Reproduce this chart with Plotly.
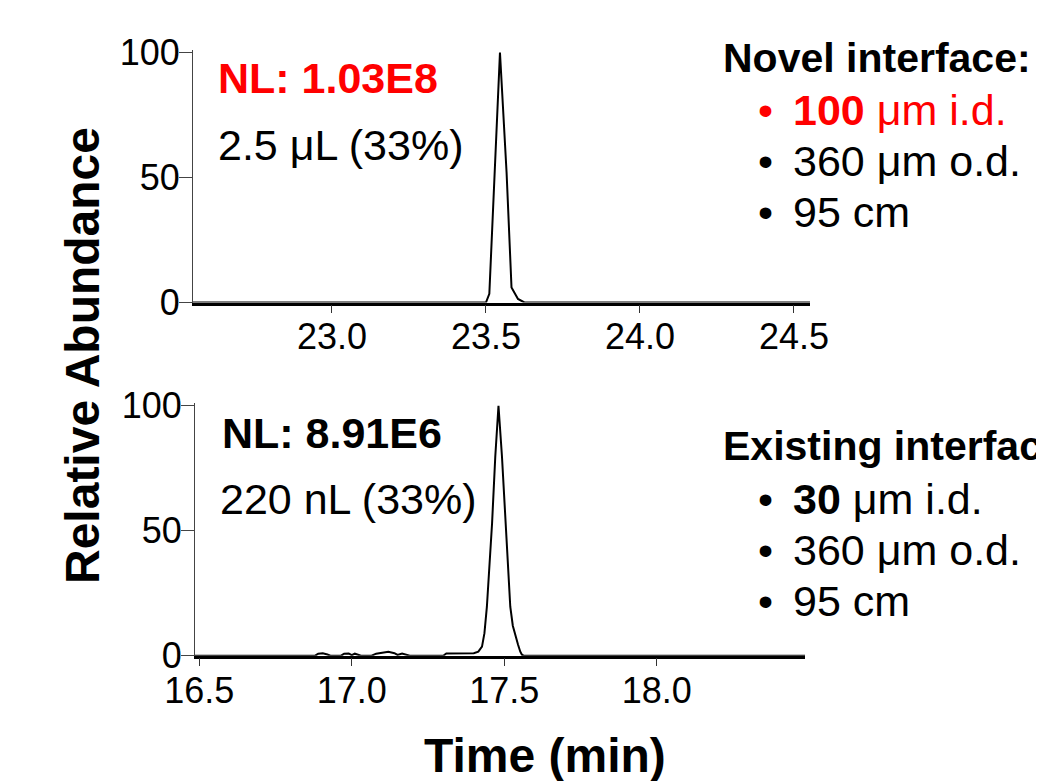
import plotly.graph_objects as go

# ---------------- data ----------------
top_time = [22.549, 23.500, 23.511, 23.528, 23.5455, 23.567, 23.583, 23.604, 23.625, 24.552]
top_abund = [0, 0, 3.5, 52, 100, 52, 6, 1.4, 0, 0]

bottom_time = [16.486, 16.88, 16.89, 16.905, 16.92, 16.93, 16.965, 16.975, 16.99, 17.00,
               17.01, 17.02, 17.03, 17.065, 17.08, 17.10, 17.12, 17.14, 17.15, 17.165,
               17.18, 17.19, 17.30, 17.31, 17.40, 17.415, 17.427, 17.435, 17.443, 17.452,
               17.460, 17.4705, 17.481, 17.4925, 17.500, 17.5066, 17.513, 17.5197, 17.528, 17.536,
               17.545, 17.5525, 17.558, 17.563, 18.486]
bottom_abund = [0, 0, 0.8, 1.0, 0.5, 0, 0, 0.8, 0.9, 0.2,
                0.8, 0.5, 0, 0, 0.8, 1.2, 1.6, 1.0, 0.3, 0.9,
                0.5, 0, 0, 0.9, 1.0, 1.6, 3.6, 9, 19.6, 36,
                53, 79.6, 100, 79.6, 62, 46, 32, 19.6, 12, 8,
                4.5, 1.6, 0.4, 0, 0]

top_xticks = [23.0, 23.5, 24.0, 24.5]
bottom_xticks = [16.5, 17.0, 17.5, 18.0]
y_ticks = [0, 50, 100]

top_range = [22.549, 24.552]
bottom_range = [16.486, 18.486]

W, H = 1044, 781
OFF = 8  # page body margin offset
FONT = "Liberation Sans, Arial, sans-serif"


def px(x):
    return (x - OFF) / W


def py(y):
    return 1 - (y - OFF) / H


fig = go.Figure()
fig.add_trace(go.Scatter(x=top_time, y=top_abund, mode="lines",
                         line=dict(color="black", width=2), xaxis="x", yaxis="y",
                         showlegend=False, hoverinfo="skip"))
fig.add_trace(go.Scatter(x=bottom_time, y=bottom_abund, mode="lines",
                         line=dict(color="black", width=2),
                         xaxis="x2", yaxis="y2", showlegend=False, hoverinfo="skip"))

xcommon = dict(showgrid=False, zeroline=False, showline=True, linecolor="black", linewidth=2.5,
               ticks="outside", ticklen=8, tickwidth=1, tickcolor="#333",
               tickfont=dict(family=FONT, size=36, color="black"), tickformat=".1f",
               automargin=False, ticklabelstandoff=-7)
ycommon = dict(showgrid=False, zeroline=False, showline=True, linecolor="#444", linewidth=1,
               ticks="outside", ticklen=13, tickwidth=1, tickcolor="#444",
               tickfont=dict(family=FONT, size=36, color="black"), range=[0, 101],
               tickvals=y_ticks, automargin=False, ticklabelstandoff=-8)

fig.update_layout(
    width=W, height=H,
    margin=dict(l=0, r=0, t=0, b=0),
    paper_bgcolor="white", plot_bgcolor="white",
    xaxis=dict(domain=[px(193), px(810)], range=top_range, tickvals=top_xticks, anchor="y", **xcommon),
    yaxis=dict(domain=[py(302.5), py(50.0)], anchor="x", **ycommon),
    xaxis2=dict(domain=[px(195), px(805)], range=bottom_range, tickvals=bottom_xticks, anchor="y2", **xcommon),
    yaxis2=dict(domain=[py(655.7), py(403.2)], anchor="x2", **ycommon),
)

ann = []


def add(text, x, y, size, color="black", xanchor="left", angle=0):
    ann.append(dict(text=text, x=px(x), y=py(y), xref="paper", yref="paper",
                    xanchor=xanchor, yanchor="middle", showarrow=False, textangle=angle,
                    font=dict(family=FONT, size=size, color=color)))


# panel labels
add("<b>NL: 1.03E8</b>", 216, 78, 43, "red")
add("2.5 μL (33%)", 216, 145, 43)
add("<b>NL: 8.91E6</b>", 220, 433, 43)
add("220 nL (33%)", 218, 499, 43)

# right-side descriptions
add("<b>Novel interface:</b>", 721, 58, 41)
add("•", 756, 110, 43, "red")
add("<b>100</b> μm i.d.", 791, 110, 43, "red")
add("•", 756, 161, 43)
add("360 μm o.d.", 791, 161, 43)
add("•", 756, 212, 43)
add("95 cm", 791, 212, 43)

add("<b>Existing interface:</b>", 721, 446, 41)
add("•", 756, 499, 43)
add("<b>30</b> μm i.d.", 791, 499, 43)
add("•", 756, 550, 43)
add("360 μm o.d.", 791, 550, 43)
add("•", 756, 601, 43)
add("95 cm", 791, 601, 43)

# axis titles
add("<b>Relative Abundance</b>", 83, 356, 48, xanchor="center", angle=-90)
add("<b>Time (min)</b>", 545, 755, 48, xanchor="center")

fig.update_layout(annotations=ann)
fig.write_html("out.html")
